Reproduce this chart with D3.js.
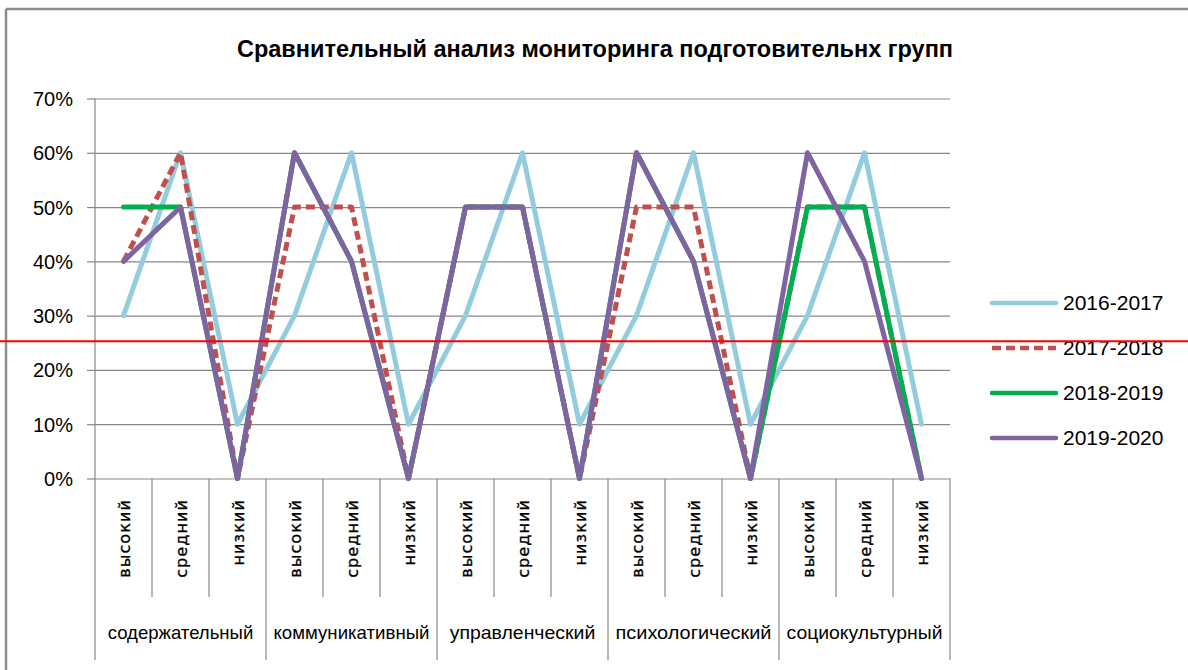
<!DOCTYPE html>
<html>
<head>
<meta charset="utf-8">
<script src="https://cdn.jsdelivr.net/npm/d3@7"></script>
<style>
  body { margin: 0; background: #fff; }
  svg { display: block; }
</style>
</head>
<body>
<svg id="chart"></svg>
<script>
// levels inside each block, and the five blocks
var levels = ['высокий', 'средний', 'низкий']
var groups = ['содержательный', 'коммуникативный', 'управленческий', 'психологический', 'социокультурный']
var yTicks = [0, 0.1, 0.2, 0.3, 0.4, 0.5, 0.6, 0.7]

// values per year, 15 points (5 blocks x 3 levels)
var s2016 = [0.3, 0.6, 0.1, 0.3, 0.6, 0.1, 0.3, 0.6, 0.1, 0.3, 0.6, 0.1, 0.3, 0.6, 0.1]
var s2017 = [0.4, 0.6, 0.0, 0.5, 0.5, 0.0, 0.5, 0.5, 0.0, 0.5, 0.5, 0.0, 0.5, 0.5, 0.0]
var s2018 = [0.5, 0.5, 0.0, 0.6, 0.4, 0.0, 0.5, 0.5, 0.0, 0.6, 0.4, 0.0, 0.5, 0.5, 0.0]
var s2019 = [0.4, 0.5, 0.0, 0.6, 0.4, 0.0, 0.5, 0.5, 0.0, 0.6, 0.4, 0.0, 0.6, 0.4, 0.0]

// red marker line drawn across the picture (about 25%)
var markLevel = [0.253]

var series = [
  { name: '2016-2017', values: s2016, color: '#93cddd', dash: null },
  { name: '2017-2018', values: s2017, color: '#c0504d', dash: '9,5' },
  { name: '2018-2019', values: s2018, color: '#00b050', dash: null },
  { name: '2019-2020', values: s2019, color: '#8064a2', dash: null }
]

var width = 1188
var height = 670
// plot box (window.top is read-only, so no plain "top")
var plotL = 95, plotR = 950, plotT = 98.5, plotB = 478.5

var svg = d3.select('#chart').attr('width', width).attr('height', height)

// outer frame (only top and left edges show)
svg.append('line').attr('x1', 6).attr('x2', width).attr('y1', 9).attr('y2', 9)
  .attr('stroke', '#8c8c8c').attr('stroke-width', 2.5)
svg.append('line').attr('x1', 6).attr('x2', 6).attr('y1', 9).attr('y2', height)
  .attr('stroke', '#8c8c8c').attr('stroke-width', 2.5)

svg.append('text')
  .attr('x', 595).attr('y', 57)
  .attr('text-anchor', 'middle')
  .attr('font-family', 'Liberation Sans Narrow, Liberation Sans, sans-serif')
  .attr('font-size', 24)
  .attr('font-weight', 600)
  .attr('textLength', 716).attr('lengthAdjust', 'spacingAndGlyphs')
  .attr('fill', '#000')
  .text('Сравнительный анализ мониторинга подготовительнх групп')

var idx = d3.range(s2016.length)
var x = d3.scaleBand().domain(idx).range([plotL, plotR])
var y = d3.scaleLinear().domain([0, 0.7]).range([plotB, plotT])

// gridlines
var grid = svg.append('g').attr('transform', 'translate(' + plotL + ',0)')
  .call(d3.axisLeft(y).tickValues(yTicks).tickSize(-(plotR - plotL)).tickFormat(''))
grid.select('.domain').remove()
grid.selectAll('line').attr('stroke', '#878787').attr('stroke-width', 1.2)

// y axis
var yAxis = svg.append('g').attr('transform', 'translate(' + plotL + ',0)')
  .call(d3.axisLeft(y).tickValues(yTicks).tickSize(8).tickPadding(14).tickFormat(d3.format('.0%')))
yAxis.select('.domain').remove()
yAxis.selectAll('line').attr('stroke', '#878787').attr('stroke-width', 1.2)
yAxis.selectAll('text')
  .attr('font-family', 'Liberation Sans, sans-serif')
  .attr('font-size', 20).attr('fill', '#000')
  .attr('dy', '0.35em')

// left axis line down through the category area
svg.append('line').attr('x1', plotL).attr('x2', plotL).attr('y1', plotT).attr('y2', 660)
  .attr('stroke', '#878787').attr('stroke-width', 1.2)

// category separators
var bounds = d3.range(1, idx.length + 1)
svg.append('g').selectAll('line').data(bounds).join('line')
  .attr('x1', d => d < idx.length ? x(d) : plotR)
  .attr('x2', d => d < idx.length ? x(d) : plotR)
  .attr('y1', plotB)
  .attr('y2', d => d % 3 === 0 ? 660 : 597)
  .attr('stroke', '#878787').attr('stroke-width', 1.2)

// level labels, rotated
svg.append('g').selectAll('text').data(idx).join('text')
  .attr('transform', d => 'translate(' + (x(d) + x.bandwidth() / 2 + 6) + ',499) rotate(-90)')
  .attr('text-anchor', 'end')
  .attr('font-family', 'DejaVu Sans, sans-serif')
  .attr('font-size', 16)
  .attr('letter-spacing', 1.1)
  .attr('stroke', '#000').attr('stroke-width', 0.3)
  .attr('fill', '#000')
  .text(d => levels[d % 3])

// block labels
svg.append('g').selectAll('text').data(groups).join('text')
  .attr('x', (d, i) => x(i * 3) + x.bandwidth() * 1.5)
  .attr('y', 639)
  .attr('text-anchor', 'middle')
  .attr('font-family', 'Liberation Sans Narrow, Liberation Sans, sans-serif')
  .attr('font-size', 19)
  .attr('textLength', (d, i) => d.length * 10.4)
  .attr('lengthAdjust', 'spacingAndGlyphs')
  .attr('fill', '#000')
  .text(d => d)

// series lines
var line = d3.line()
  .x((d, i) => x(i) + x.bandwidth() / 2)
  .y(d => y(d))

svg.append('g').selectAll('path').data(series).join('path')
  .attr('d', d => line(d.values))
  .attr('fill', 'none')
  .attr('stroke', d => d.color)
  .attr('stroke-width', 5)
  .attr('stroke-linejoin', 'round')
  .attr('stroke-linecap', d => d.dash ? 'butt' : 'round')
  .attr('stroke-dasharray', d => d.dash)

// legend
var legend = svg.append('g').selectAll('g').data(series).join('g')
  .attr('transform', (d, i) => 'translate(992,' + (303 + i * 45) + ')')
legend.append('line')
  .attr('x1', 0).attr('x2', 64)
  .attr('stroke', d => d.color)
  .attr('stroke-width', 4.5)
  .attr('stroke-linecap', d => d.dash ? 'butt' : 'round')
  .attr('stroke-dasharray', d => d.dash)
legend.append('text')
  .attr('x', 71).attr('dy', '0.35em')
  .attr('font-family', 'Liberation Sans, sans-serif')
  .attr('font-size', 21)
  .attr('fill', '#000')
  .text(d => d.name)

// red marker line
svg.append('g').selectAll('line').data(markLevel).join('line')
  .attr('x1', 0).attr('x2', width)
  .attr('y1', d => y(d)).attr('y2', d => y(d))
  .attr('stroke', '#ff0000').attr('stroke-width', 2)
</script>
</body>
</html>
